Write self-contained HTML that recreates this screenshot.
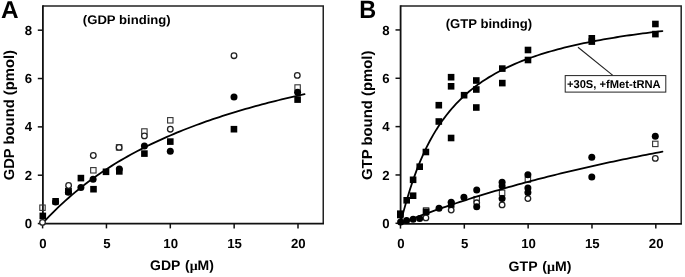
<!DOCTYPE html>
<html><head><meta charset="utf-8"><title>Binding</title><style>
html,body{margin:0;padding:0;background:#fff;}
body{width:685px;height:277px;overflow:hidden;}
svg{display:block;filter:grayscale(1);}
text{text-rendering:geometricPrecision;}
text{font-family:"Liberation Sans",sans-serif;font-weight:bold;fill:#000;}
.mu{font-family:"Liberation Serif",serif;font-weight:bold;}
</style></head>
<body>
<svg width="685" height="277" viewBox="0 0 685 277">
<rect width="685" height="277" fill="#fff"/>
<path d="M42.9 6.0H323.25V223.7" fill="none" stroke="#222" stroke-width="1.5"/>
<path d="M42.9 5.25V223.7H324.0" fill="none" stroke="#111" stroke-width="1.8"/>
<path d="M37.80 223.55H42.9" stroke="#111" stroke-width="1.5"/>
<path d="M37.80 175.21H42.9" stroke="#111" stroke-width="1.5"/>
<path d="M37.80 126.87H42.9" stroke="#111" stroke-width="1.5"/>
<path d="M37.80 78.53H42.9" stroke="#111" stroke-width="1.5"/>
<path d="M37.80 30.19H42.9" stroke="#111" stroke-width="1.5"/>
<path d="M42.60 223.7V228.39999999999998" stroke="#111" stroke-width="1.5"/>
<path d="M106.45 223.7V228.39999999999998" stroke="#111" stroke-width="1.5"/>
<path d="M170.30 223.7V228.39999999999998" stroke="#111" stroke-width="1.5"/>
<path d="M234.15 223.7V228.39999999999998" stroke="#111" stroke-width="1.5"/>
<path d="M298.00 223.7V228.39999999999998" stroke="#111" stroke-width="1.5"/>
<text x="32.10" y="228.15" text-anchor="end" style="font-size:13.2px">0</text>
<text x="32.10" y="179.81" text-anchor="end" style="font-size:13.2px">2</text>
<text x="32.10" y="131.47" text-anchor="end" style="font-size:13.2px">4</text>
<text x="32.10" y="83.13" text-anchor="end" style="font-size:13.2px">6</text>
<text x="32.10" y="34.79" text-anchor="end" style="font-size:13.2px">8</text>
<text x="42.95" y="247.75" text-anchor="middle" style="font-size:13.2px">0</text>
<text x="106.80" y="247.75" text-anchor="middle" style="font-size:13.2px">5</text>
<text x="170.65" y="247.75" text-anchor="middle" style="font-size:13.2px">10</text>
<text x="234.50" y="247.75" text-anchor="middle" style="font-size:13.2px">15</text>
<text x="298.35" y="247.75" text-anchor="middle" style="font-size:13.2px">20</text>
<rect x="39.80" y="205.00" width="5.4" height="5.4" fill="none" stroke="#333" stroke-width="1.1"/>
<rect x="65.70" y="188.30" width="5.4" height="5.4" fill="none" stroke="#333" stroke-width="1.1"/>
<rect x="90.65" y="167.60" width="5.4" height="5.4" fill="none" stroke="#333" stroke-width="1.1"/>
<rect x="116.40" y="144.70" width="5.4" height="5.4" fill="none" stroke="#333" stroke-width="1.1"/>
<rect x="141.70" y="128.80" width="5.4" height="5.4" fill="none" stroke="#333" stroke-width="1.1"/>
<rect x="167.60" y="117.60" width="5.4" height="5.4" fill="none" stroke="#333" stroke-width="1.1"/>
<rect x="294.90" y="84.80" width="5.4" height="5.4" fill="none" stroke="#333" stroke-width="1.1"/>
<rect x="39.50" y="212.60" width="6.6" height="6.6" fill="#000"/>
<rect x="52.30" y="198.00" width="6.6" height="6.6" fill="#000"/>
<rect x="65.10" y="188.00" width="6.6" height="6.6" fill="#000"/>
<rect x="77.60" y="174.80" width="6.6" height="6.6" fill="#000"/>
<rect x="90.20" y="185.90" width="6.6" height="6.6" fill="#000"/>
<rect x="102.70" y="168.50" width="6.6" height="6.6" fill="#000"/>
<rect x="116.00" y="168.10" width="6.6" height="6.6" fill="#000"/>
<rect x="141.10" y="150.30" width="6.6" height="6.6" fill="#000"/>
<rect x="167.00" y="138.30" width="6.6" height="6.6" fill="#000"/>
<rect x="230.65" y="125.90" width="6.6" height="6.6" fill="#000"/>
<rect x="294.30" y="96.30" width="6.6" height="6.6" fill="#000"/>
<circle cx="68.60" cy="185.50" r="2.8" fill="#fff" stroke="#222" stroke-width="1.3"/>
<circle cx="93.30" cy="155.50" r="2.8" fill="#fff" stroke="#222" stroke-width="1.3"/>
<circle cx="119.10" cy="147.40" r="2.8" fill="#fff" stroke="#222" stroke-width="1.3"/>
<circle cx="144.40" cy="135.90" r="2.8" fill="#fff" stroke="#222" stroke-width="1.3"/>
<circle cx="170.30" cy="129.20" r="2.8" fill="#fff" stroke="#222" stroke-width="1.3"/>
<circle cx="234.00" cy="55.70" r="2.8" fill="#fff" stroke="#222" stroke-width="1.3"/>
<circle cx="297.30" cy="75.40" r="2.8" fill="#fff" stroke="#222" stroke-width="1.3"/>
<circle cx="55.60" cy="202.00" r="3.5" fill="#000"/>
<circle cx="68.40" cy="192.20" r="3.5" fill="#000"/>
<circle cx="80.90" cy="187.50" r="3.5" fill="#000"/>
<circle cx="93.10" cy="179.20" r="3.5" fill="#000"/>
<circle cx="119.30" cy="168.90" r="3.5" fill="#000"/>
<circle cx="144.40" cy="146.10" r="3.5" fill="#000"/>
<circle cx="170.30" cy="151.20" r="3.5" fill="#000"/>
<circle cx="234.00" cy="97.00" r="3.5" fill="#000"/>
<circle cx="297.60" cy="92.20" r="3.5" fill="#000"/>
<path d="M42.50 223.50 L45.78 219.93 L49.05 216.47 L52.33 213.12 L55.60 209.86 L58.88 206.69 L62.16 203.62 L65.43 200.63 L68.71 197.72 L71.98 194.89 L75.26 192.14 L78.53 189.46 L81.81 186.85 L85.09 184.31 L88.36 181.84 L91.64 179.42 L94.91 177.07 L98.19 174.77 L101.47 172.53 L104.74 170.34 L108.02 168.20 L111.29 166.12 L114.57 164.08 L117.84 162.09 L121.12 160.14 L124.40 158.24 L127.67 156.38 L130.95 154.56 L134.22 152.78 L137.50 151.04 L140.78 149.33 L144.05 147.66 L147.33 146.03 L150.60 144.42 L153.88 142.85 L157.15 141.32 L160.43 139.81 L163.71 138.33 L166.98 136.88 L170.26 135.46 L173.53 134.07 L176.81 132.70 L180.09 131.36 L183.36 130.04 L186.64 128.75 L189.91 127.48 L193.19 126.24 L196.46 125.01 L199.74 123.81 L203.02 122.63 L206.29 121.47 L209.57 120.33 L212.84 119.21 L216.12 118.11 L219.40 117.03 L222.67 115.96 L225.95 114.92 L229.22 113.89 L232.50 112.87 L235.77 111.88 L239.05 110.90 L242.33 109.93 L245.60 108.98 L248.88 108.05 L252.15 107.13 L255.43 106.22 L258.71 105.33 L261.98 104.45 L265.26 103.59 L268.53 102.74 L271.81 101.90 L275.08 101.07 L278.36 100.25 L281.64 99.45 L284.91 98.66 L288.19 97.88 L291.46 97.11 L294.74 96.35 L298.02 95.60 L301.29 94.87 L304.57 94.14" fill="none" stroke="#000" stroke-width="1.8" stroke-linecap="round"/>
<circle cx="42.50" cy="222.40" r="2.8" fill="#fff" stroke="#222" stroke-width="1.3"/>
<path d="M400.6 6.0H681.2V223.9" fill="none" stroke="#222" stroke-width="1.5"/>
<path d="M400.6 5.25V223.9H681.95" fill="none" stroke="#111" stroke-width="1.8"/>
<path d="M395.50 223.30H400.6" stroke="#111" stroke-width="1.5"/>
<path d="M395.50 174.96H400.6" stroke="#111" stroke-width="1.5"/>
<path d="M395.50 126.62H400.6" stroke="#111" stroke-width="1.5"/>
<path d="M395.50 78.28H400.6" stroke="#111" stroke-width="1.5"/>
<path d="M395.50 29.94H400.6" stroke="#111" stroke-width="1.5"/>
<path d="M400.47 223.9V228.6" stroke="#111" stroke-width="1.5"/>
<path d="M464.31 223.9V228.6" stroke="#111" stroke-width="1.5"/>
<path d="M528.14 223.9V228.6" stroke="#111" stroke-width="1.5"/>
<path d="M591.98 223.9V228.6" stroke="#111" stroke-width="1.5"/>
<path d="M655.81 223.9V228.6" stroke="#111" stroke-width="1.5"/>
<text x="389.50" y="227.90" text-anchor="end" style="font-size:13.2px">0</text>
<text x="389.50" y="179.56" text-anchor="end" style="font-size:13.2px">2</text>
<text x="389.50" y="131.22" text-anchor="end" style="font-size:13.2px">4</text>
<text x="389.50" y="82.88" text-anchor="end" style="font-size:13.2px">6</text>
<text x="389.50" y="34.54" text-anchor="end" style="font-size:13.2px">8</text>
<text x="400.82" y="247.75" text-anchor="middle" style="font-size:13.2px">0</text>
<text x="464.66" y="247.75" text-anchor="middle" style="font-size:13.2px">5</text>
<text x="528.49" y="247.75" text-anchor="middle" style="font-size:13.2px">10</text>
<text x="592.33" y="247.75" text-anchor="middle" style="font-size:13.2px">15</text>
<text x="656.16" y="247.75" text-anchor="middle" style="font-size:13.2px">20</text>
<rect x="397.00" y="210.40" width="6.6" height="6.6" fill="#000"/>
<rect x="397.00" y="211.70" width="6.6" height="6.6" fill="#000"/>
<rect x="403.40" y="197.00" width="6.6" height="6.6" fill="#000"/>
<rect x="409.80" y="176.50" width="6.6" height="6.6" fill="#000"/>
<rect x="409.80" y="192.40" width="6.6" height="6.6" fill="#000"/>
<rect x="416.40" y="163.40" width="6.6" height="6.6" fill="#000"/>
<rect x="422.60" y="148.70" width="6.6" height="6.6" fill="#000"/>
<rect x="435.50" y="101.90" width="6.6" height="6.6" fill="#000"/>
<rect x="435.50" y="118.20" width="6.6" height="6.6" fill="#000"/>
<rect x="447.80" y="73.90" width="6.6" height="6.6" fill="#000"/>
<rect x="447.80" y="83.00" width="6.6" height="6.6" fill="#000"/>
<rect x="447.80" y="134.70" width="6.6" height="6.6" fill="#000"/>
<rect x="460.80" y="91.90" width="6.6" height="6.6" fill="#000"/>
<rect x="473.00" y="77.20" width="6.6" height="6.6" fill="#000"/>
<rect x="473.00" y="86.20" width="6.6" height="6.6" fill="#000"/>
<rect x="473.00" y="104.20" width="6.6" height="6.6" fill="#000"/>
<rect x="499.00" y="65.30" width="6.6" height="6.6" fill="#000"/>
<rect x="499.00" y="79.80" width="6.6" height="6.6" fill="#000"/>
<rect x="524.70" y="46.70" width="6.6" height="6.6" fill="#000"/>
<rect x="524.70" y="56.70" width="6.6" height="6.6" fill="#000"/>
<rect x="588.50" y="35.00" width="6.6" height="6.6" fill="#000"/>
<rect x="588.50" y="38.30" width="6.6" height="6.6" fill="#000"/>
<rect x="652.10" y="20.70" width="6.6" height="6.6" fill="#000"/>
<rect x="652.10" y="30.80" width="6.6" height="6.6" fill="#000"/>
<path d="M400.30 223.50 L403.58 211.36 L406.85 199.68 L410.13 188.92 L413.41 179.08 L416.68 170.09 L419.96 161.86 L423.24 154.31 L426.51 147.38 L429.79 140.99 L433.07 135.10 L436.34 129.64 L439.62 124.57 L442.90 119.86 L446.18 115.46 L449.45 111.36 L452.73 107.52 L456.01 103.92 L459.28 100.53 L462.56 97.35 L465.84 94.35 L469.11 91.51 L472.39 88.84 L475.67 86.30 L478.94 83.89 L482.22 81.61 L485.50 79.44 L488.77 77.38 L492.05 75.41 L495.33 73.54 L498.60 71.75 L501.88 70.03 L505.16 68.40 L508.43 66.83 L511.71 65.33 L514.99 63.89 L518.26 62.51 L521.54 61.18 L524.82 59.90 L528.09 58.68 L531.37 57.49 L534.65 56.36 L537.93 55.26 L541.20 54.20 L544.48 53.18 L547.76 52.19 L551.03 51.24 L554.31 50.32 L557.59 49.43 L560.86 48.56 L564.14 47.73 L567.42 46.92 L570.69 46.13 L573.97 45.37 L577.25 44.64 L580.52 43.92 L583.80 43.22 L587.08 42.55 L590.35 41.89 L593.63 41.25 L596.91 40.63 L600.18 40.03 L603.46 39.44 L606.74 38.87 L610.01 38.31 L613.29 37.77 L616.57 37.24 L619.84 36.73 L623.12 36.22 L626.40 35.73 L629.68 35.26 L632.95 34.79 L636.23 34.33 L639.51 33.89 L642.78 33.45 L646.06 33.03 L649.34 32.61 L652.61 32.21 L655.89 31.81 L659.17 31.42 L662.44 31.04" fill="none" stroke="#000" stroke-width="1.8" stroke-linecap="round"/>
<rect x="423.40" y="207.80" width="5.4" height="5.4" fill="none" stroke="#333" stroke-width="1.1"/>
<rect x="474.00" y="196.50" width="5.4" height="5.4" fill="none" stroke="#333" stroke-width="1.1"/>
<rect x="499.40" y="190.10" width="5.4" height="5.4" fill="none" stroke="#333" stroke-width="1.1"/>
<rect x="525.20" y="176.90" width="5.4" height="5.4" fill="none" stroke="#333" stroke-width="1.1"/>
<rect x="652.60" y="141.20" width="5.4" height="5.4" fill="none" stroke="#333" stroke-width="1.1"/>
<circle cx="425.90" cy="217.90" r="2.8" fill="#fff" stroke="#222" stroke-width="1.3"/>
<circle cx="451.20" cy="210.10" r="2.8" fill="#fff" stroke="#222" stroke-width="1.3"/>
<circle cx="476.70" cy="202.80" r="2.8" fill="#fff" stroke="#222" stroke-width="1.3"/>
<circle cx="502.10" cy="204.90" r="2.8" fill="#fff" stroke="#222" stroke-width="1.3"/>
<circle cx="527.90" cy="198.60" r="2.8" fill="#fff" stroke="#222" stroke-width="1.3"/>
<circle cx="655.30" cy="158.40" r="2.8" fill="#fff" stroke="#222" stroke-width="1.3"/>
<rect x="422.80" y="208.50" width="6.6" height="6.6" fill="#000"/>
<rect x="447.90" y="201.20" width="6.6" height="6.6" fill="#000"/>
<circle cx="400.60" cy="222.00" r="3.5" fill="#000"/>
<circle cx="406.60" cy="220.50" r="3.5" fill="#000"/>
<circle cx="413.10" cy="219.30" r="3.5" fill="#000"/>
<circle cx="419.70" cy="218.40" r="3.5" fill="#000"/>
<circle cx="439.00" cy="208.30" r="3.5" fill="#000"/>
<circle cx="451.20" cy="202.20" r="3.5" fill="#000"/>
<circle cx="463.90" cy="197.30" r="3.5" fill="#000"/>
<circle cx="476.70" cy="190.10" r="3.5" fill="#000"/>
<circle cx="476.70" cy="206.80" r="3.5" fill="#000"/>
<circle cx="502.10" cy="182.20" r="3.5" fill="#000"/>
<circle cx="502.10" cy="186.00" r="3.5" fill="#000"/>
<circle cx="502.10" cy="198.60" r="3.5" fill="#000"/>
<circle cx="527.90" cy="174.80" r="3.5" fill="#000"/>
<circle cx="527.90" cy="188.00" r="3.5" fill="#000"/>
<circle cx="527.90" cy="192.60" r="3.5" fill="#000"/>
<circle cx="591.80" cy="157.20" r="3.5" fill="#000"/>
<circle cx="591.80" cy="177.10" r="3.5" fill="#000"/>
<circle cx="655.30" cy="136.20" r="3.5" fill="#000"/>
<path d="M400.30 223.50 L403.58 222.20 L406.85 220.92 L410.13 219.65 L413.41 218.39 L416.68 217.15 L419.96 215.92 L423.24 214.70 L426.51 213.50 L429.79 212.31 L433.07 211.14 L436.34 209.97 L439.62 208.82 L442.90 207.68 L446.18 206.56 L449.45 205.44 L452.73 204.34 L456.01 203.25 L459.28 202.17 L462.56 201.10 L465.84 200.04 L469.11 198.99 L472.39 197.95 L475.67 196.93 L478.94 195.91 L482.22 194.90 L485.50 193.91 L488.77 192.92 L492.05 191.94 L495.33 190.98 L498.60 190.02 L501.88 189.07 L505.16 188.13 L508.43 187.20 L511.71 186.28 L514.99 185.37 L518.26 184.46 L521.54 183.57 L524.82 182.68 L528.09 181.80 L531.37 180.93 L534.65 180.07 L537.93 179.21 L541.20 178.37 L544.48 177.53 L547.76 176.70 L551.03 175.87 L554.31 175.05 L557.59 174.25 L560.86 173.44 L564.14 172.65 L567.42 171.86 L570.69 171.08 L573.97 170.31 L577.25 169.54 L580.52 168.78 L583.80 168.02 L587.08 167.27 L590.35 166.53 L593.63 165.80 L596.91 165.07 L600.18 164.35 L603.46 163.63 L606.74 162.92 L610.01 162.22 L613.29 161.52 L616.57 160.82 L619.84 160.14 L623.12 159.46 L626.40 158.78 L629.68 158.11 L632.95 157.44 L636.23 156.78 L639.51 156.13 L642.78 155.48 L646.06 154.84 L649.34 154.20 L652.61 153.56 L655.89 152.94 L659.17 152.31 L662.44 151.69" fill="none" stroke="#000" stroke-width="1.8" stroke-linecap="round"/>
<path d="M578 47.3 L612.8 75.4" stroke="#222" stroke-width="1.1"/>
<rect x="565.2" y="75.6" width="100.6" height="16.5" fill="#fff" stroke="#222" stroke-width="1"/>
<text x="566.90" y="87.90" style="font-size:11.41px" textLength="93.75" lengthAdjust="spacingAndGlyphs">+30S, +fMet-tRNA</text>
<text x="82.85" y="24.30" style="font-size:12.40px" textLength="87.84" lengthAdjust="spacingAndGlyphs">(GDP binding)</text>
<text x="445.65" y="27.95" style="font-size:12.78px" textLength="86.47" lengthAdjust="spacingAndGlyphs">(GTP binding)</text>
<text x="1.00" y="17.55" style="font-size:24.39px" textLength="17.61" lengthAdjust="spacingAndGlyphs">A</text>
<text x="359.20" y="18.35" style="font-size:25.05px" textLength="16.94" lengthAdjust="spacingAndGlyphs">B</text>
<text x="150.05" y="270.25" style="font-size:13.80px" textLength="63.87" lengthAdjust="spacingAndGlyphs">GDP <tspan dx="1">(</tspan><tspan class="mu">μ</tspan>M)</text>
<text x="508.60" y="270.60" style="font-size:13.70px" textLength="62.77" lengthAdjust="spacingAndGlyphs">GTP <tspan dx="1">(</tspan><tspan class="mu">μ</tspan>M)</text>
<text transform="translate(14.10 180.30) rotate(-90)" style="font-size:14.53px" textLength="130.27" lengthAdjust="spacingAndGlyphs">GDP bound (pmol)</text>
<text transform="translate(371.60 180.00) rotate(-90)" style="font-size:14.53px" textLength="129.37" lengthAdjust="spacingAndGlyphs">GTP bound (pmol)</text>
</svg>
</body></html>
